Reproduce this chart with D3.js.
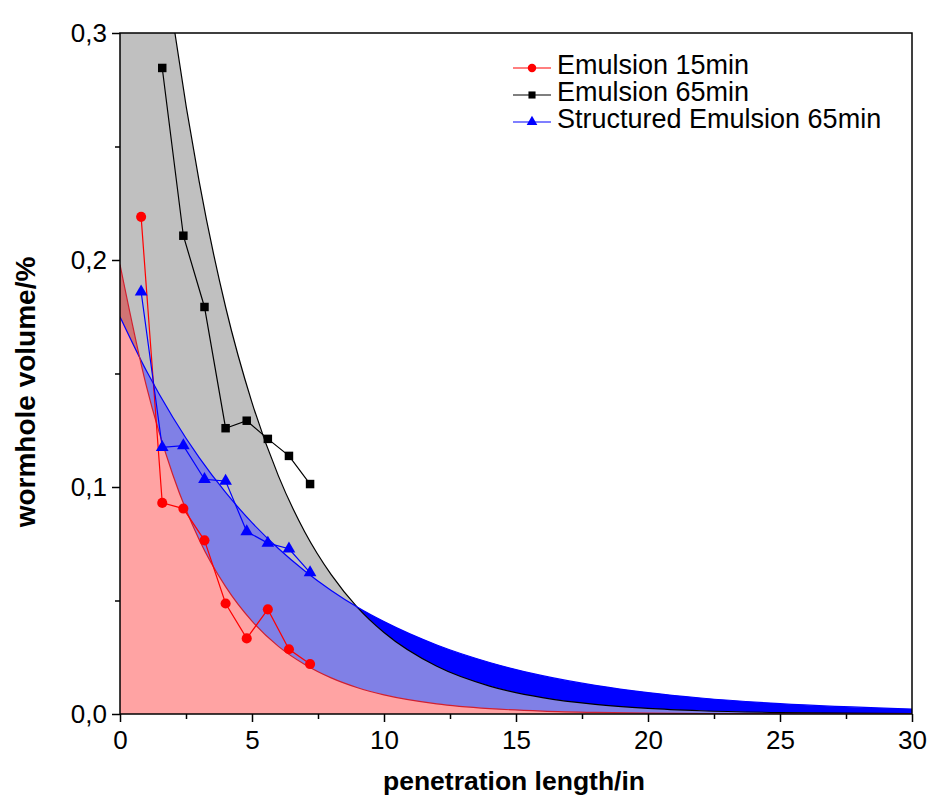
<!DOCTYPE html>
<html>
<head>
<meta charset="utf-8">
<script src="https://cdn.jsdelivr.net/npm/d3@7"></script>
<style>
body { margin: 0; background: #fff; }
text { font-family: "Liberation Sans", Arial, sans-serif; }
</style>
</head>
<body>
<script>
// fitted curves, values at fitX
var fitX = [0, 1, 2, 3, 4, 5, 6, 7, 8, 9, 10, 12, 14, 16, 18, 20, 22, 25, 30];
var fitRed = [0.198, 0.1444, 0.1054, 0.0768, 0.0561, 0.0409, 0.0298, 0.0218, 0.0159, 0.01158, 0.00845, 0.0045, 0.00239, 0.00127, 0.00068, 0.00036, 0.00019, 0.00008, 0.00002];
var fitBlack = [0.524, 0.4008, 0.3066, 0.2345, 0.1793, 0.1372, 0.1049, 0.0802, 0.0614, 0.0469, 0.0359, 0.0210, 0.01228, 0.00718, 0.0042, 0.00246, 0.00144, 0.00064, 0.00017];
var fitBlue = [0.175, 0.1512, 0.1307, 0.1129, 0.0976, 0.0843, 0.0729, 0.0630, 0.0544, 0.0470, 0.0407, 0.0304, 0.0227, 0.0169, 0.01264, 0.00943, 0.00705, 0.00455, 0.00219];

// measured points
var penX15 = [0.8, 1.6, 2.4, 3.2, 4.0, 4.8, 5.6, 6.4, 7.2];
var emulsion15 = [0.219, 0.093, 0.0905, 0.0765, 0.0487, 0.0333, 0.0461, 0.0285, 0.022];
var penX65 = [1.6, 2.4, 3.2, 4.0, 4.8, 5.6, 6.4, 7.2];
var emulsion65 = [0.2846, 0.2107, 0.1793, 0.1259, 0.1292, 0.1212, 0.1137, 0.1013];
var penXS = [0.8, 1.6, 2.4, 3.2, 4.0, 4.8, 5.6, 6.4, 7.2];
var structured65 = [0.186, 0.1175, 0.1182, 0.1034, 0.1026, 0.0804, 0.0753, 0.0728, 0.0623];

var legendNames = ["Emulsion 15min", "Emulsion 65min", "Structured Emulsion 65min"];
var xTicks = [0, 5, 10, 15, 20, 25, 30];
var xMinor = [2.5, 7.5, 12.5, 17.5, 22.5, 27.5];
var yTicks = [0, 0.1, 0.2, 0.3];
var yMinor = [0.05, 0.15, 0.25];

var width = 930;
var height = 800;
var padding = { top: 33, right: 18, bottom: 86, left: 120 };
var plotW = width - padding.left - padding.right;
var plotH = height - padding.top - padding.bottom;

var svg = d3.select("body").append("svg")
    .attr("width", width)
    .attr("height", height);

var xScale = d3.scaleLinear().domain([0, 30]).range([0, plotW]);
var yScale = d3.scaleLinear().domain([0, 0.3]).range([plotH, 0]);

var defs = svg.append("defs");
defs.append("clipPath").attr("id", "plotClip")
    .append("rect").attr("width", plotW).attr("height", plotH);

function pts(xs, ys) {
    return xs.map(function(x, i) { return [x, ys[i]]; });
}
var redFit = pts(fitX, fitRed);
var blackFit = pts(fitX, fitBlack);
var blueFit = pts(fitX, fitBlue);

var areaUnder = d3.area()
    .x(function(d) { return xScale(d[0]); })
    .y0(yScale(0))
    .y1(function(d) { return yScale(d[1]); })
    .curve(d3.curveMonotoneX);
var areaAbove = d3.area()
    .x(function(d) { return xScale(d[0]); })
    .y0(yScale(0.6))
    .y1(function(d) { return yScale(d[1]); })
    .curve(d3.curveMonotoneX);
var lineFit = d3.line()
    .x(function(d) { return xScale(d[0]); })
    .y(function(d) { return yScale(d[1]); })
    .curve(d3.curveMonotoneX);
var lineData = d3.line()
    .x(function(d) { return xScale(d[0]); })
    .y(function(d) { return yScale(d[1]); });

defs.append("clipPath").attr("id", "underBlack")
    .append("path").attr("d", areaUnder(blackFit));
defs.append("clipPath").attr("id", "aboveBlue")
    .append("path").attr("d", areaAbove(blueFit));

var g = svg.append("g")
    .attr("transform", "translate(" + padding.left + "," + padding.top + ")");

var fills = g.append("g").attr("clip-path", "url(#plotClip)");
fills.append("path").attr("d", areaUnder(blueFit)).attr("fill", "#0000ff");
fills.append("path").attr("d", areaUnder(blackFit)).attr("fill", "#c0c0c0");
fills.append("path").attr("d", areaUnder(blueFit)).attr("fill", "#8080e6")
    .attr("clip-path", "url(#underBlack)");
fills.append("path").attr("d", areaUnder(redFit)).attr("fill", "#ffa3a3");
fills.append("path").attr("d", areaUnder(redFit)).attr("fill", "#d07474")
    .attr("clip-path", "url(#aboveBlue)");

fills.append("path").attr("d", lineFit(blackFit)).attr("fill", "none")
    .attr("stroke", "#000").attr("stroke-width", 1.2);
fills.append("path").attr("d", lineFit(blueFit)).attr("fill", "none")
    .attr("stroke", "#0000ff").attr("stroke-width", 1.2);
fills.append("path").attr("d", lineFit(redFit)).attr("fill", "none")
    .attr("stroke", "#d02030").attr("stroke-width", 1.2);

// data series
var series = [
    { data: pts(penX15, emulsion15), color: "#ff0000", shape: d3.symbolCircle, size: 80 },
    { data: pts(penX65, emulsion65), color: "#000000", shape: d3.symbolSquare, size: 72 },
    { data: pts(penXS, structured65), color: "#0000ff", shape: d3.symbolTriangle, size: 70 }
];

series.forEach(function(s) {
    g.append("path").attr("d", lineData(s.data)).attr("fill", "none")
        .attr("stroke", s.color).attr("stroke-width", 1.2);
    g.selectAll(null).data(s.data).enter().append("path")
        .attr("d", d3.symbol().type(s.shape).size(s.size))
        .attr("transform", function(d) { return "translate(" + xScale(d[0]) + "," + yScale(d[1]) + ")"; })
        .attr("fill", s.color);
});

// axes
var fmt = function(d) { return d3.format(".1f")(d).replace(".", ","); };
var xAxis = d3.axisBottom(xScale).tickValues(xTicks).tickSize(8).tickSizeOuter(0).tickPadding(9);
var xAxisMinor = d3.axisBottom(xScale).tickValues(xMinor).tickSize(5).tickSizeOuter(0).tickFormat("");
var yAxis = d3.axisLeft(yScale).tickValues(yTicks).tickSize(8).tickSizeOuter(0).tickPadding(5).tickFormat(fmt);
var yAxisMinor = d3.axisLeft(yScale).tickValues(yMinor).tickSize(5).tickSizeOuter(0).tickFormat("");

[
    g.append("g").attr("transform", "translate(0," + plotH + ")").call(xAxis),
    g.append("g").attr("transform", "translate(0," + plotH + ")").call(xAxisMinor),
    g.append("g").call(yAxis),
    g.append("g").call(yAxisMinor)
].forEach(function(ax) {
    ax.selectAll(".domain").remove();
    ax.selectAll("line").attr("stroke", "#000").attr("stroke-width", 1.5);
    ax.selectAll("text").attr("font-size", 26).attr("fill", "#000")
        .attr("font-family", "Liberation Sans, Arial, sans-serif");
});

g.append("rect").attr("width", plotW).attr("height", plotH)
    .attr("fill", "none").attr("stroke", "#000").attr("stroke-width", 1.5);

svg.append("text")
    .attr("x", padding.left + plotW / 2 - 2).attr("y", 790)
    .attr("text-anchor", "middle").attr("font-size", 26.5).attr("font-weight", "bold")
    .text("penetration length/in");
svg.append("text")
    .attr("transform", "translate(35,392) rotate(-90)")
    .attr("text-anchor", "middle").attr("font-size", 28).attr("font-weight", "bold")
    .text("wormhole volume/%");

// legend
var legend = svg.append("g").attr("transform", "translate(513,74)");
series.forEach(function(s, i) {
    var row = legend.append("g").attr("transform", "translate(0," + (i * 27) + ")");
    row.append("line").attr("x1", 0).attr("x2", 38).attr("y1", -6).attr("y2", -6)
        .attr("stroke", s.color).attr("stroke-width", 1.2);
    row.append("path").attr("d", d3.symbol().type(s.shape).size(s.size * 0.7))
        .attr("transform", "translate(19,-6)").attr("fill", s.color);
    row.append("text").attr("x", 44).attr("y", 0).attr("font-size", 27)
        .text(legendNames[i]);
});
</script>
</body>
</html>
